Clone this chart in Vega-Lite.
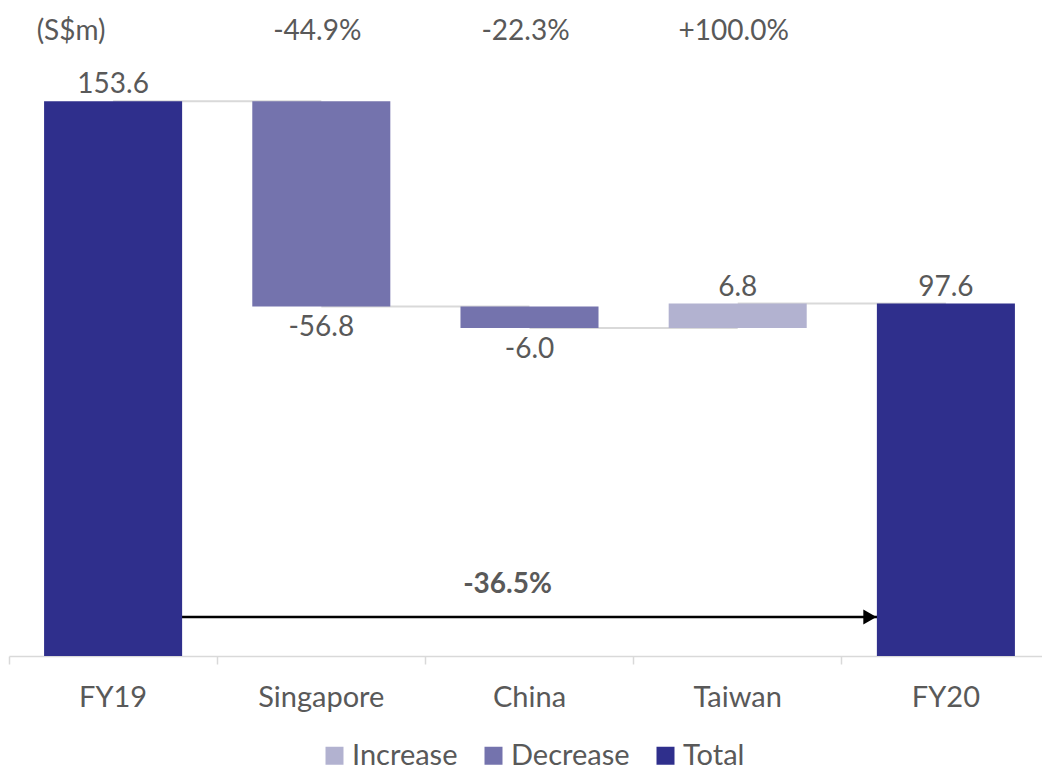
{
  "$schema": "https://vega.github.io/schema/vega-lite/v6.json",
  "autosize": "none",
  "width": 1033,
  "height": 650,
  "padding": {"left": 9, "top": 6, "right": 0, "bottom": 113},
  "background": "white",
  "config": {
    "view": {"stroke": null},
    "font": "Lato",
    "text": {"font": "Lato", "fontSize": 28, "color": "#595959"},
    "axisX": {
      "title": null, "labelAngle": 0, "bandPosition": 0,
      "domainColor": "#d9d9d9", "domainWidth": 1.5,
      "tickColor": "#d9d9d9", "tickWidth": 1.5, "tickSize": 8,
      "labelFont": "Lato", "labelFontSize": 29, "labelColor": "#595959",
      "labelPadding": 19, "grid": false
    }
  },
  "datasets": {
    "bars": [
      {"cat": "FY19", "lo": 0, "hi": 153.6, "type": "Total", "label": "153.6"},
      {"cat": "Singapore", "lo": 96.8, "hi": 153.6, "type": "Decrease", "label": "-56.8"},
      {"cat": "China", "lo": 90.8, "hi": 96.8, "type": "Decrease", "label": "-6.0"},
      {"cat": "Taiwan", "lo": 90.8, "hi": 97.6, "type": "Increase", "label": "6.8"},
      {"cat": "FY20", "lo": 0, "hi": 97.6, "type": "Total", "label": "97.6"}
    ],
    "links": [
      {"from": "FY19", "to": "Singapore", "level": 153.6},
      {"from": "Singapore", "to": "China", "level": 96.8},
      {"from": "China", "to": "Taiwan", "level": 90.8},
      {"from": "Taiwan", "to": "FY20", "level": 97.6}
    ],
    "pcts": [
      {"cat": "Singapore", "pct": "-44.9%"},
      {"cat": "China", "pct": "-22.3%"},
      {"cat": "Taiwan", "pct": "+100.0%"}
    ],
    "arrow": [
      {"from": "FY19", "to": "FY20", "change": "-36.5%", "mid": "China"}
    ],
    "unit": [
      {"cat": "FY19", "unit": "(S$m)"}
    ]
  },
  "layer": [
    {
      "data": {"name": "links"},
      "mark": {"type": "rule", "color": "#d9d9d9", "strokeWidth": 2},
      "encoding": {
        "x": {"field": "from", "type": "nominal", "sort": null, "axis": {"title": null}},
        "x2": {"field": "to"},
        "y": {"field": "level", "type": "quantitative", "axis": null}
      }
    },
    {
      "data": {"name": "arrow"},
      "mark": {"type": "rule", "color": "black", "strokeWidth": 2.5},
      "encoding": {
        "x": {"field": "from", "type": "nominal", "sort": null, "axis": {"title": null}},
        "x2": {"field": "to"},
        "y": {"datum": 10.8, "type": "quantitative", "axis": null}
      }
    },
    {
      "data": {"name": "bars"},
      "mark": {"type": "bar", "width": {"band": 0.663}},
      "encoding": {
        "x": {
          "field": "cat", "type": "nominal",
          "scale": {"domain": ["FY19", "Singapore", "China", "Taiwan", "FY20"], "range": [0, 1041], "paddingInner": 0, "paddingOuter": 0},
          "sort": null,
          "axis": {"title": null}
        },
        "y": {"field": "lo", "type": "quantitative", "scale": {"domain": [0, 180]}, "axis": null},
        "y2": {"field": "hi"},
        "color": {
          "field": "type", "type": "nominal",
          "scale": {"domain": ["Increase", "Decrease", "Total"], "range": ["#b2b2d0", "#7473ad", "#2f2f8c"]},
          "legend": {
            "title": null, "orient": "none", "direction": "horizontal",
            "legendX": 311, "legendY": 735,
            "symbolType": "square", "symbolSize": 324, "symbolStrokeWidth": 0,
            "labelFont": "Lato", "labelFontSize": 29, "labelColor": "#595959",
            "labelOffset": 3, "columnPadding": 21
          }
        }
      }
    },
    {
      "data": {"name": "arrow"},
      "mark": {"type": "point", "shape": "triangle-right", "filled": true, "color": "black", "opacity": 1, "size": 230, "xOffset": -76},
      "encoding": {
        "x": {"field": "to", "type": "nominal", "sort": null, "axis": {"title": null}},
        "y": {"datum": 10.8, "type": "quantitative", "axis": null}
      }
    },
    {
      "data": {"name": "bars"},
      "transform": [{"filter": "datum.type !== 'Decrease'"}],
      "mark": {"type": "text", "baseline": "alphabetic", "dy": -8},
      "encoding": {
        "x": {"field": "cat", "type": "nominal", "sort": null, "axis": {"title": null}},
        "y": {"field": "hi", "type": "quantitative", "axis": null},
        "text": {"field": "label"}
      }
    },
    {
      "data": {"name": "bars"},
      "transform": [{"filter": "datum.type === 'Decrease'"}],
      "mark": {"type": "text", "baseline": "alphabetic", "dy": 30},
      "encoding": {
        "x": {"field": "cat", "type": "nominal", "sort": null, "axis": {"title": null}},
        "y": {"field": "lo", "type": "quantitative", "axis": null},
        "text": {"field": "label"}
      }
    },
    {
      "data": {"name": "pcts"},
      "mark": {"type": "text", "baseline": "alphabetic", "dx": -4},
      "encoding": {
        "x": {"field": "cat", "type": "nominal", "sort": null, "axis": {"title": null}},
        "y": {"datum": 170.6, "type": "quantitative", "axis": null},
        "text": {"field": "pct"}
      }
    },
    {
      "data": {"name": "unit"},
      "mark": {"type": "text", "baseline": "alphabetic", "dx": -42},
      "encoding": {
        "x": {"field": "cat", "type": "nominal", "sort": null, "axis": {"title": null}},
        "y": {"datum": 170.6, "type": "quantitative", "axis": null},
        "text": {"field": "unit"}
      }
    },
    {
      "data": {"name": "arrow"},
      "mark": {"type": "text", "baseline": "alphabetic", "fontWeight": "bold", "dx": -22},
      "encoding": {
        "x": {"field": "mid", "type": "nominal", "sort": null, "axis": {"title": null}},
        "y": {"datum": 17.4, "type": "quantitative", "axis": null},
        "text": {"field": "change"}
      }
    }
  ]
}
